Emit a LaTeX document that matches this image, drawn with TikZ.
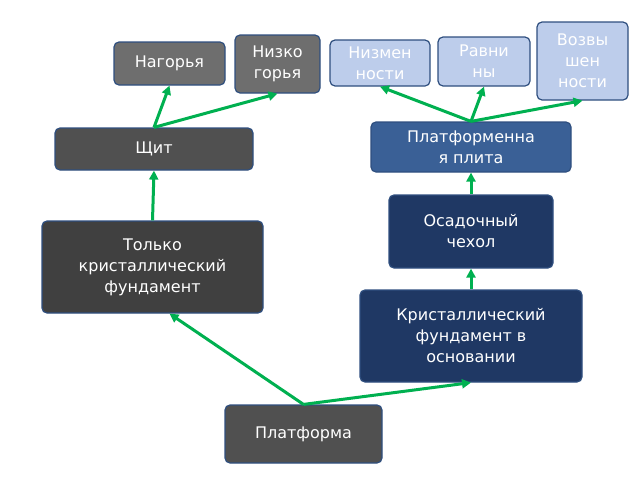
\documentclass[tikz,border=0pt]{standalone}
\usepackage{fontspec}
\setmainfont{DejaVu Sans}
\usetikzlibrary{arrows.meta}
\definecolor{arrgreen}{HTML}{00B050}
\definecolor{boxgray}{HTML}{6E6E6E}
\definecolor{boxdark}{HTML}{505050}
\definecolor{boxlight}{HTML}{BDCDEB}
\definecolor{boxmid}{HTML}{3A6096}
\definecolor{boxnavy}{HTML}{1F3864}
\definecolor{boxline}{HTML}{2F4F7F}
\begin{document}
\begin{tikzpicture}[x=1pt,y=-1pt,
   box/.style={draw=boxline,line width=1.2pt,rounded corners=5pt,text=white,
     align=center,inner sep=2pt,font=\fontsize{16}{21}\selectfont},
   link/.style={draw=arrgreen,line width=3pt,-{Triangle[length=9pt,width=9pt]}}]
   \useasboundingbox (0,0) rectangle (640,480);
   % top row
   \node[box,fill=boxgray,minimum width=111pt,minimum height=43pt] (nag) at (169.5,63.5) {Нагорья};
   \node[box,fill=boxgray,minimum width=85pt,minimum height=58pt] (nizk) at (277.5,64) {Низко\\горья};
   \node[box,fill=boxlight,minimum width=100pt,minimum height=46pt] (nizm) at (380,63) {Низмен\\ности};
   \node[box,fill=boxlight,minimum width=92pt,minimum height=49pt] (ravn) at (484,61.5) {Равни\\ны};
   \node[box,fill=boxlight,minimum width=91pt,minimum height=78pt] (vozv) at (582.5,61) {Возвы\\шен\\ности};
   % middle
   \node[box,fill=boxdark,minimum width=198pt,minimum height=42pt] (shchit) at (154,149) {Щит};
   \node[box,fill=boxmid,minimum width=200pt,minimum height=50pt] (plita) at (471,147) {Платформенна\\я плита};
   \node[box,fill=boxnavy,minimum width=164pt,minimum height=73pt] (chekhol) at (471,231.5) {Осадочный\\чехол};
   \node[box,fill=boxdark!80!black,minimum width=221pt,minimum height=92pt] (tolko) at (152.5,267) {Только\\кристаллический\\фундамент};
   \node[box,fill=boxnavy,minimum width=222pt,minimum height=92pt] (krist) at (471,336) {Кристаллический\\фундамент в\\основании};
   % bottom
   \node[box,fill=boxdark,minimum width=157pt,minimum height=58pt] (platf) at (303.5,434) {Платформа};
   % connectors
   \draw[link] (platf.north) -- (tolko.290);
   \draw[link] (platf.north) -- (krist.south);
   \draw[link] (krist.north) -- (chekhol.south);
   \draw[link] (chekhol.north) -- (plita.south);
   \draw[link] (plita.north) -- (nizm.south);
   \draw[link] (plita.north) -- (ravn.south);
   \draw[link] (plita.north) -- (vozv.south);
   \draw[link] (tolko.north) -- (shchit.south);
   \draw[link] (shchit.north) -- (nag.south);
   \draw[link] (shchit.north) -- (nizk.south);
\end{tikzpicture}
\end{document}
